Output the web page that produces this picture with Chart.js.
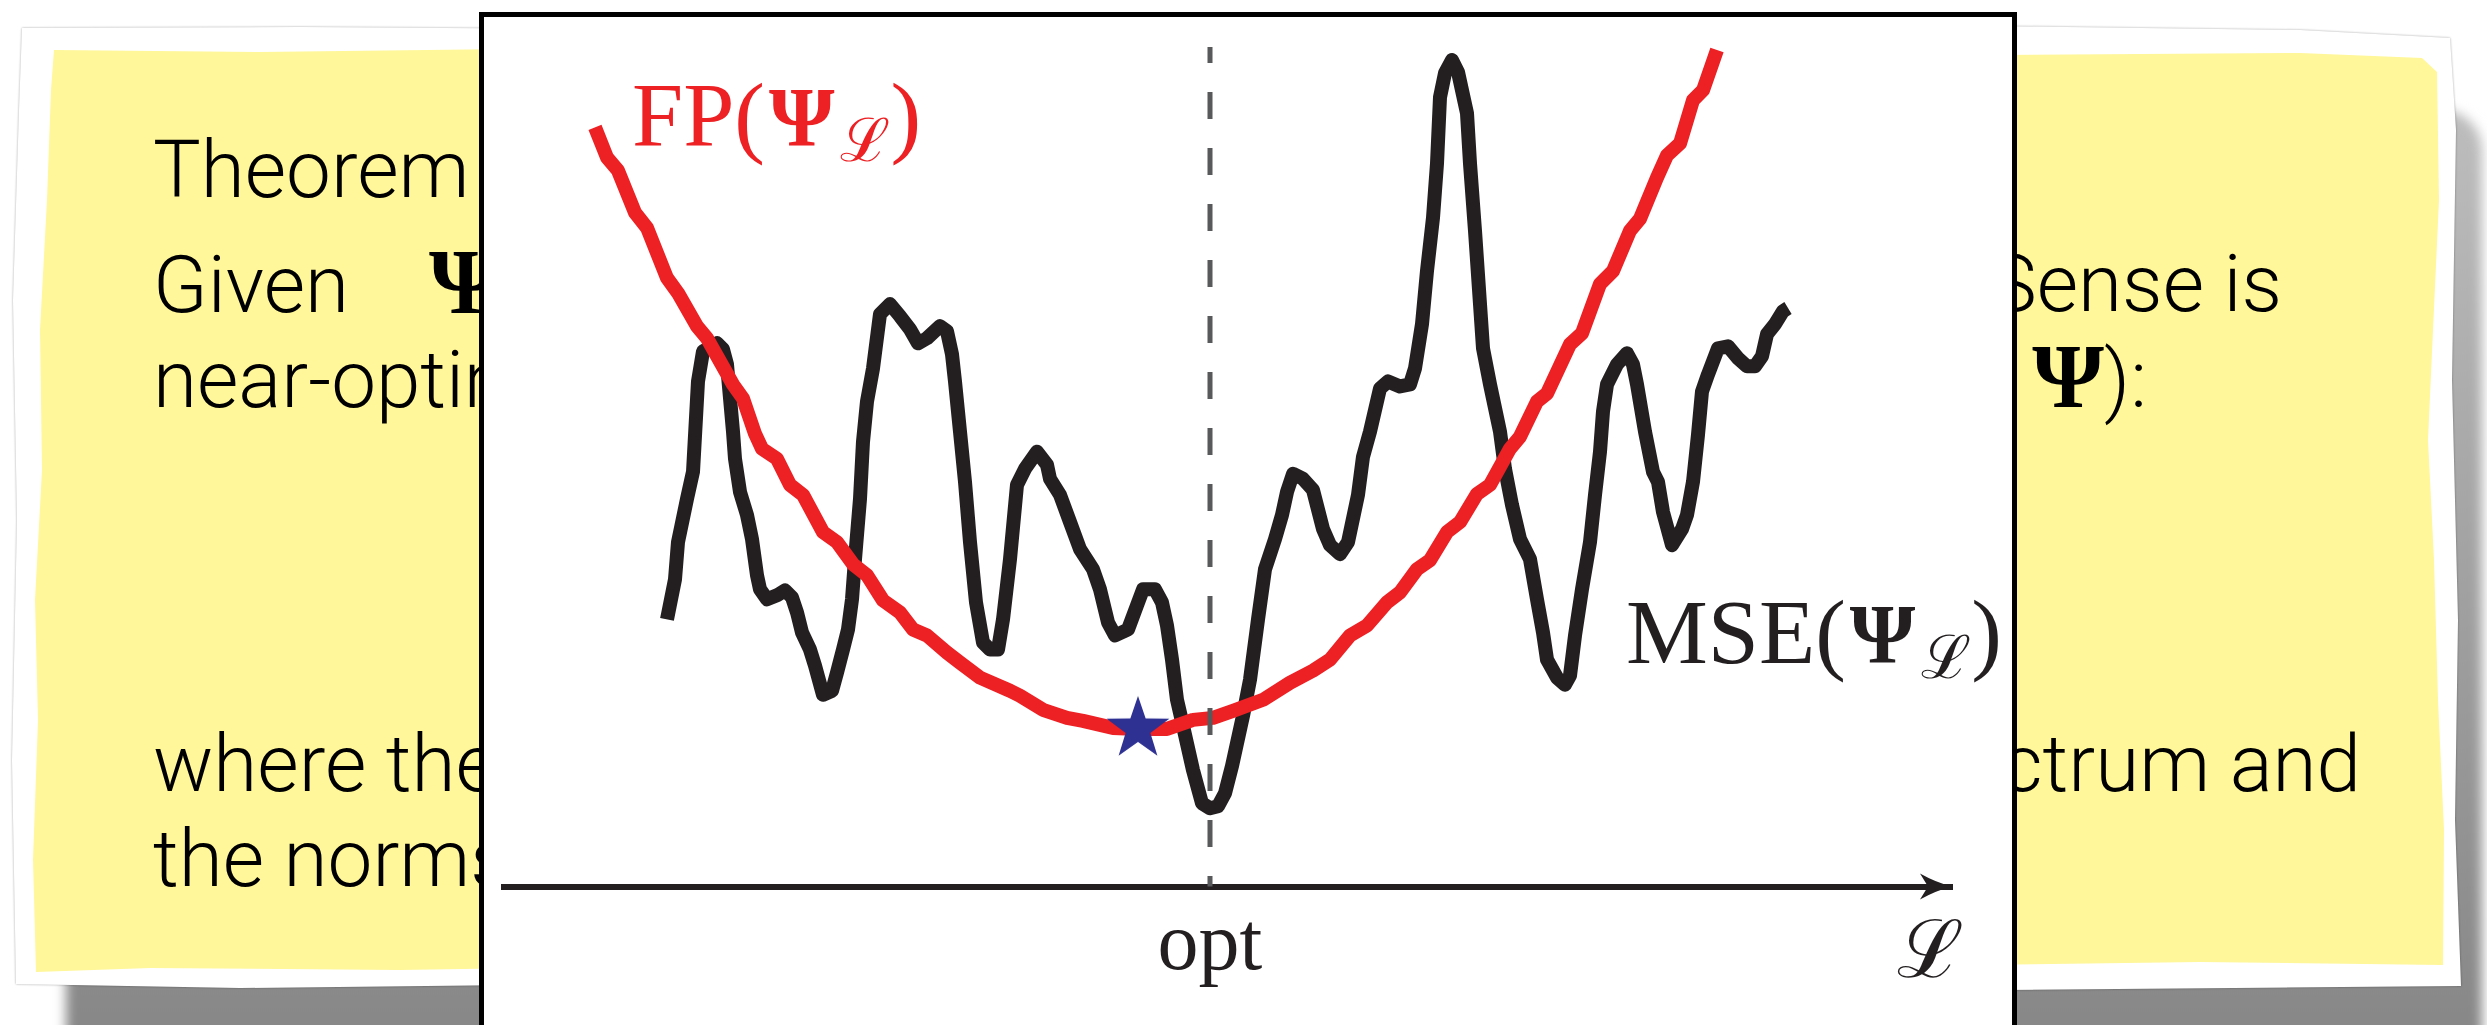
<!DOCTYPE html>
<html lang="en">
<head>
<meta charset="utf-8">
<title>FP vs MSE</title>
<script src="https://cdn.jsdelivr.net/npm/chart.js"></script>
<style>
  html, body { margin: 0; padding: 0; background: #fff; }
  body { position: relative; width: 2487px; height: 1025px; overflow: hidden; }

  /* torn yellow note behind the plot */
  .shadow { position: absolute; left: 66px; top: 110px; width: 2416px; height: 960px;
    border-radius: 40px; background: linear-gradient(#bdbdbd, #9e9e9e 55%, #858585);
    filter: blur(6px); }
  .paper-wrap { position: absolute; left: 0; top: 0; width: 2487px; height: 1025px;
    filter: drop-shadow(0 0 1px rgba(0,0,0,0.35)); }
  .paper { position: absolute; left: 0; top: 0; width: 2487px; height: 1025px; background: #fff;
    clip-path: polygon(22px 28px, 300px 27px, 700px 30px, 1100px 26px, 1500px 29px, 1900px 25px,
      2300px 30px, 2450px 38px, 2456px 130px, 2452px 380px, 2458px 620px, 2455px 820px, 2461px 986px,
      2000px 990px, 1500px 985px, 1000px 989px, 600px 984px, 240px 988px, 16px 984px, 12px 760px,
      17px 520px, 13px 300px, 19px 110px); }
  .note { position: absolute; left: 0; top: 0; width: 2487px; height: 1025px; background: #fff799;
    clip-path: polygon(54px 50px, 260px 52px, 520px 49px, 800px 53px, 1100px 51px, 1400px 54px,
      1700px 50px, 2000px 55px, 2300px 53px, 2422px 58px, 2437px 72px, 2439px 200px, 2433px 330px,
      2428px 440px, 2434px 560px, 2438px 700px, 2444px 830px, 2443px 965px, 2200px 962px, 1900px 966px,
      1500px 964px, 1100px 968px, 700px 965px, 400px 970px, 150px 968px, 36px 972px, 33px 860px,
      38px 720px, 35px 600px, 42px 470px, 40px 330px, 47px 200px, 51px 90px); }

  .clip { position: absolute; top: 0; height: 1025px; overflow: hidden; }
  .clip-left { left: 0; width: 479px; }
  .clip-right { left: 2017px; width: 470px; }
  .line { position: absolute; white-space: nowrap; color: #000;
    font: 300 80px/1 Roboto, "Liberation Sans", Arial, sans-serif; }
  .psi { font-family: "Liberation Serif", serif; font-weight: bold; font-size: 92px; line-height: 0;
    margin-left: 18px; }
  .psi-line { font: bold 94px/1 "Liberation Serif", serif; }

  .frame { position: absolute; left: 479px; top: 12px; width: 1528px; height: 1100px;
    border: 5px solid #000; background: #fff; }
  #lossChart { position: absolute; left: 0; top: 0; }
</style>
</head>
<body>
<div class="shadow"></div>
<div class="paper-wrap"><div class="paper"></div></div>
<div class="note"></div>

<div class="clip clip-left">
  <div class="line" style="left:153px; top:130px;">Theorem 1</div>
  <div class="line" style="left:153px; top:245px;">Given</div>
  <div class="line psi-line" style="left:429px; top:234px;">Ψ</div>
  <div class="line" style="left:153px; top:340px;">near-optimal</div>
  <div class="line" style="left:153px; top:724px;">where the constants</div>
  <div class="line" style="left:153px; top:819px;">the norms of</div>
</div>
<div class="clip clip-right">
  <div class="line" style="right:205px; top:244px;">FrameSense is</div>
  <div class="line" style="right:340px; top:340px;">FP(<span class="psi">Ψ</span>):</div>
  <div class="line" style="right:126px; top:724px;">spectrum and</div>
</div>

<div class="frame">
  <canvas id="lossChart" width="1528" height="1008"></canvas>
</div>

<script>
// frame potential FP(Ψ_L) along the L axis
const fpL = [9.1, 10.3, 11.4, 13.1, 14.3, 16.3, 17.4, 19.3, 20.3, 22.9, 23.9, 25.1, 25.8, 27.3,
  28.6, 29.9, 31.9, 33.3, 34.9, 36.3, 37.9, 39.6, 40.9, 42.3, 44.3, 45.6, 47.6, 50.6, 51.6, 53.9,
  56.3, 57.9, 60.9, 63.4, 66.3, 68.9, 70.9, 72.9, 75.9, 78.6, 80.9, 82.6, 84.6, 86.3, 88.3, 89.6,
  91.3, 92.6, 94.3, 95.6, 97.3, 98.6, 100.6, 101.6, 103.3, 104.3, 106.6, 107.8, 109.6, 110.9,
  112.6, 113.6, 115.3, 116.3, 117.6, 118.9, 119.9, 121.3];
const fpVal = [75.6, 72.6, 71.3, 67.1, 65.6, 60.6, 59.1, 55.8, 54.6, 50.0, 48.6, 45.1, 43.6, 42.6,
  40.0, 39.0, 35.3, 34.3, 32.1, 31.0, 28.5, 27.3, 25.6, 25.0, 23.3, 22.3, 20.8, 19.5, 19.0, 17.6,
  16.8, 16.5, 15.8, 15.7, 15.7, 16.6, 16.8, 17.5, 18.6, 20.3, 21.5, 22.6, 25.0, 26.0, 28.3, 29.3,
  31.6, 32.5, 35.3, 36.3, 39.1, 40.0, 43.6, 44.8, 48.3, 49.1, 54.0, 55.1, 60.0, 61.3, 65.3, 66.5,
  70.6, 72.8, 74.0, 78.3, 79.3, 83.3];

// MSE(Ψ_L)
const mseL = [16.3, 17.1, 17.4, 18.3, 18.9, 19.4, 19.9, 21.3, 21.9, 22.3, 22.9, 23.1, 23.6, 24.3,
  24.8, 25.3, 25.6, 26.3, 27.3, 28.1, 28.8, 29.3, 29.8, 30.6, 31.1, 31.9, 32.8, 33.3, 33.9, 34.4,
  34.8, 35.1, 35.6, 35.9, 36.3, 36.9, 37.6, 38.6, 39.6, 40.6, 41.4, 42.3, 43.6, 44.3, 44.8, 45.1,
  45.6, 46.1, 46.6, 47.2, 47.9, 48.6, 49.4, 49.9, 50.6, 51.3, 52.1, 53.3, 54.3, 54.6, 55.6, 56.6,
  57.6, 58.9, 59.6, 60.4, 61.1, 62.4, 63.3, 63.9, 65.1, 65.8, 66.3, 66.8, 67.3, 67.9, 68.9, 69.8,
  70.6, 71.4, 72.1, 72.8, 73.9, 74.6, 75.4, 76.1, 77.1, 77.8, 78.3, 78.9, 79.9, 80.9, 81.9, 82.6,
  83.6, 84.4, 85.4, 85.9, 86.6, 87.6, 88.4, 89.6, 90.6, 91.1, 91.8, 92.3, 92.9, 93.3, 93.6, 94.1,
  94.8, 95.4, 96.3, 96.6, 97.1, 97.6, 97.9, 98.6, 99.6, 100.1, 100.8, 101.6, 102.6, 103.3, 103.9,
  104.3, 105.3, 106.1, 106.6, 107.1, 107.8, 108.6, 109.1, 109.6, 109.9, 110.3, 111.3, 112.3, 112.9,
  113.3, 114.1, 114.9, 115.4, 115.9, 116.8, 117.8, 118.3, 118.9, 119.4, 119.8, 120.4, 121.4, 122.4,
  123.4, 124.3, 125.1, 125.8, 126.3, 127.1, 127.9, 128.4];
const mseVal = [26.6, 30.6, 34.3, 38.6, 41.3, 50.3, 53.3, 54.1, 53.5, 52.0, 45.3, 42.6, 39.3, 37.0,
  34.6, 31.0, 29.6, 28.6, 29.0, 29.5, 28.8, 27.3, 25.3, 23.6, 22.0, 19.1, 19.5, 21.3, 23.6, 25.6,
  28.6, 32.6, 38.6, 44.3, 48.3, 51.6, 57.0, 58.0, 56.8, 55.5, 54.1, 54.6, 55.8, 55.3, 53.0, 50.3,
  45.3, 40.3, 34.3, 28.3, 24.3, 23.6, 23.6, 26.6, 32.6, 40.0, 41.6, 43.3, 42.0, 40.6, 39.0, 36.3,
  33.6, 31.6, 29.6, 26.3, 25.0, 25.6, 28.0, 29.6, 29.6, 28.3, 26.0, 22.6, 18.6, 16.0, 11.6, 8.3,
  7.8, 8.0, 9.3, 12.0, 17.0, 20.6, 26.6, 31.6, 34.6, 37.0, 39.3, 41.1, 40.6, 39.5, 35.6, 34.0,
  33.1, 34.3, 39.0, 42.8, 45.3, 49.6, 50.3, 49.8, 50.0, 51.6, 56.0, 61.3, 66.6, 72.0, 78.6, 81.0,
  82.3, 81.1, 77.0, 72.0, 65.3, 58.0, 53.6, 50.0, 45.3, 41.6, 38.0, 34.6, 32.6, 28.6, 25.3,
  22.6, 20.8, 20.1, 21.0, 25.0, 29.6, 34.3, 39.0, 43.3, 47.3, 50.0, 52.0, 53.1, 52.0,
  50.0, 45.3, 41.3, 40.3, 37.3, 34.0, 35.6, 37.0, 40.3, 45.0, 49.3, 51.0, 53.6, 53.8,
  52.6, 51.8, 51.8, 52.8, 55.0, 56.0, 57.3, 57.6];

// axis: "opt" sits under the MSE minimum, the axis name near the arrow tip
const axisLabels = ['opt', 'ℒ'];
const axisNameAt = 142.6;
const axisMax = 144.8;
const valueMax = 83.6;

const RED = '#ed2024';
const INK = '#231f20';
const DASH = '#58595b';
const STAR = '#2e3192';

const argMin = arr => arr.indexOf(Math.min(...arr));
const optL = mseL[argMin(mseVal)];
const starIdx = argMin(fpVal);

function makeStar(outer, inner, color) {
  const c = document.createElement('canvas');
  c.width = c.height = Math.ceil(outer * 2 + 2);
  const g = c.getContext('2d');
  const cx = c.width / 2, cy = c.height / 2;
  g.beginPath();
  for (let i = 0; i < 10; i++) {
    const r = i % 2 ? inner : outer;
    const a = -Math.PI / 2 + i * Math.PI / 5;
    g.lineTo(cx + r * Math.cos(a), cy + r * Math.sin(a));
  }
  g.closePath();
  g.fillStyle = color;
  g.fill();
  return c;
}

/* labels next to the curves: pieces drawn one after another on a shared baseline */
const curveLabels = [
  { at: [12.8, 73.7], color: RED, parts: [
    { text: 'FP(', font: '92px "Liberation Serif", serif' },
    { text: 'Ψ', font: 'bold 84px "Liberation Serif", serif', gap: 4 },
    { text: 'ℒ', font: '60px "DejaVu Serif", serif', dy: 15, gap: 6 },
    { text: ')', font: '92px "Liberation Serif", serif' }
  ]},
  { at: [112.2, 22.3], color: INK, parts: [
    { text: 'MSE(', font: '92px "Liberation Serif", serif' },
    { text: 'Ψ', font: 'bold 84px "Liberation Serif", serif', gap: 4 },
    { text: 'ℒ', font: '60px "DejaVu Serif", serif', dy: 15, gap: 6 },
    { text: ')', font: '92px "Liberation Serif", serif' }
  ]}
];

const decorations = {
  id: 'decorations',
  afterDatasetsDraw(chart) {
    const { ctx, chartArea, scales: { x, y } } = chart;
    // dashed marker at the optimum
    const ox = x.getPixelForValue(optL);
    ctx.save();
    ctx.strokeStyle = DASH;
    ctx.lineWidth = 5;
    ctx.setLineDash([27, 29]);
    ctx.lineDashOffset = 11;
    ctx.beginPath();
    ctx.moveTo(ox, chartArea.top);
    ctx.lineTo(ox, y.getPixelForValue(0));
    ctx.stroke();
    ctx.restore();

    curveLabels.forEach(lab => {
      let px = x.getPixelForValue(lab.at[0]);
      const py = y.getPixelForValue(lab.at[1]);
      ctx.save();
      ctx.fillStyle = lab.color;
      ctx.textBaseline = 'alphabetic';
      ctx.textAlign = 'left';
      lab.parts.forEach(p => {
        ctx.font = p.font;
        px += p.gap || 0;
        ctx.fillText(p.text, px, py + (p.dy || 0));
        px += ctx.measureText(p.text).width;
      });
      ctx.restore();
    });
  },
  afterDraw(chart) {
    // arrow head at the end of the L axis
    const { ctx, scales: { x, y } } = chart;
    const tx = x.getPixelForValue(axisMax);
    const ty = y.getPixelForValue(0);
    ctx.save();
    ctx.fillStyle = INK;
    ctx.beginPath();
    ctx.moveTo(tx, ty);
    ctx.quadraticCurveTo(tx - 16, ty - 4, tx - 32, ty - 13);
    ctx.lineTo(tx - 24, ty);
    ctx.lineTo(tx - 32, ty + 13);
    ctx.quadraticCurveTo(tx - 16, ty + 4, tx, ty);
    ctx.closePath();
    ctx.fill();
    ctx.restore();
  }
};

const tickValues = [optL, axisNameAt];

new Chart(document.getElementById('lossChart'), {
  type: 'line',
  data: {
    datasets: [
      {
        label: 'star',
        data: [{ x: fpL[starIdx], y: fpVal[starIdx] }],
        showLine: false,
        pointStyle: makeStar(33, 13, STAR),
        pointRadius: 1,
        pointBorderWidth: 0,
        clip: false,
        order: 0
      },
      {
        label: 'FP',
        data: fpL.map((v, i) => ({ x: v, y: fpVal[i] })),
        borderColor: RED,
        borderWidth: 14,
        borderJoinStyle: 'round',
        borderCapStyle: 'butt',
        pointRadius: 0,
        tension: 0,
        clip: false,
        order: 1
      },
      {
        label: 'MSE',
        data: mseL.map((v, i) => ({ x: v, y: mseVal[i] })),
        borderColor: INK,
        borderWidth: 14,
        borderJoinStyle: 'round',
        borderCapStyle: 'butt',
        pointRadius: 0,
        tension: 0,
        clip: false,
        order: 2
      }
    ]
  },
  options: {
    responsive: false,
    animation: false,
    devicePixelRatio: 1,
    layout: { padding: { left: 20, right: 60, top: 30, bottom: 0 } },
    plugins: { legend: { display: false }, tooltip: { enabled: false } },
    scales: {
      x: {
        type: 'linear',
        min: 0,
        max: axisMax,
        grid: { display: false, drawTicks: false },
        border: { display: true, color: INK, width: 6 },
        afterBuildTicks: scale => { scale.ticks = tickValues.map(v => ({ value: v })); },
        ticks: {
          autoSkip: false,
          maxRotation: 0,
          minRotation: 0,
          padding: 2,
          color: INK,
          callback: (v, i) => axisLabels[i],
          font: ctx => ctx.index === 1
            ? { family: '"DejaVu Serif", serif', size: 80, lineHeight: 1.68 }
            : { family: '"Liberation Serif", serif', size: 82, lineHeight: 1.44 }
        }
      },
      y: { type: 'linear', min: 0, max: valueMax, display: false }
    }
  },
  plugins: [decorations]
});
</script>
</body>
</html>
